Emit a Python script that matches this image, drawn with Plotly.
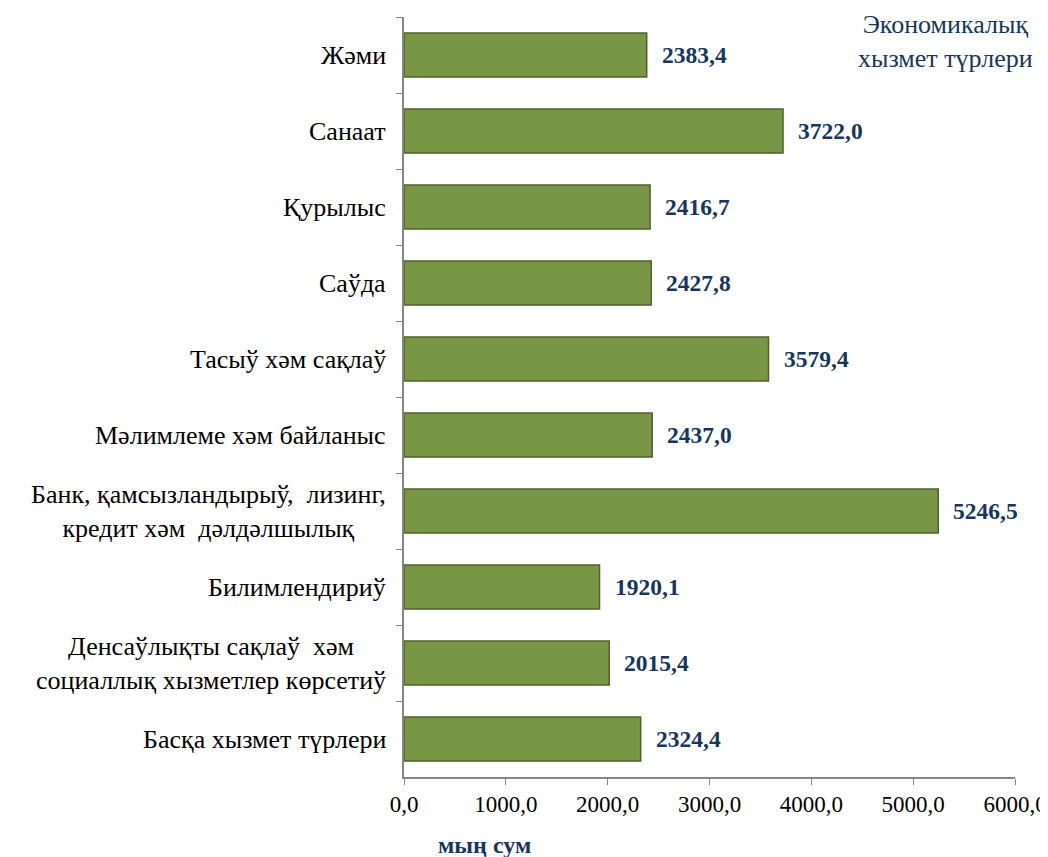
import plotly.graph_objects as go

categories = [
    "Жәми",
    "Санаат",
    "Қурылыс",
    "Саўда",
    "Тасыў хәм сақлаў",
    "Мәлимлеме хәм байланыс",
    "Банк, қамсызландырыў,  лизинг,<br>кредит хәм  дәлдәлшылық",
    "Билимлендириў",
    "Денсаўлықты сақлаў  хәм<br>социаллық хызметлер көрсетиў",
    "Басқа хызмет түрлери",
]
values = [2383.4, 3722.0, 2416.7, 2427.8, 3579.4, 2437.0, 5246.5, 1920.1, 2015.4, 2324.4]
tick_vals = [0, 1000, 2000, 3000, 4000, 5000, 6000]
tick_text = ["0,0", "1000,0", "2000,0", "3000,0", "4000,0", "5000,0", "6000,0"]

NAVY = "#17365D"
FONT = "Liberation Serif, DejaVu Serif, serif"

fig = go.Figure(go.Bar(
    x=values, y=categories, orientation="h",
    marker=dict(color="#789646", line=dict(color="#4F6228", width=1.5)),
    width=0.58,
))

annotations = []
for c, v in zip(categories, values):
    annotations.append(dict(
        x=v, y=c, xref="x", yref="y", xanchor="left", yanchor="middle",
        xshift=13, showarrow=False,
        text="<b>" + f"{v:.1f}".replace(".", ",") + "</b>",
        font=dict(family=FONT, size=23.5, color=NAVY),
    ))
    annotations.append(dict(
        x=0, y=c, xref="paper", yref="y", xanchor="right", yanchor="middle",
        xshift=-16, showarrow=False, align="center",
        text=c, font=dict(family=FONT, size=26, color="#000000"),
    ))

annotations.append(dict(
    x=0.886, y=1.0, xref="paper", yref="paper", showarrow=False,
    text="Экономикалық<br>хызмет түрлери", align="center",
    xanchor="center", yanchor="top", yshift=9,
    font=dict(family=FONT, size=26, color=NAVY),
))
annotations.append(dict(
    x=0.132, y=-0.09, xref="paper", yref="paper", showarrow=False,
    text="<b>мың сум</b>", xanchor="center", yanchor="middle",
    font=dict(family=FONT, size=24, color=NAVY),
))

fig.update_layout(
    width=1040, height=849,
    margin=dict(l=396, r=33, t=9, b=80),
    paper_bgcolor="white", plot_bgcolor="white",
    showlegend=False,
    annotations=annotations,
    xaxis=dict(
        range=[0, 6000], tickvals=tick_vals, ticktext=tick_text,
        showgrid=False, zeroline=False, automargin=False,
        showline=True, linecolor="#868686", linewidth=1.5,
        ticks="outside", ticklen=6, tickcolor="#868686",
        tickfont=dict(family=FONT, size=23, color="#000000"),
    ),
    yaxis=dict(
        autorange="reversed", showticklabels=False, automargin=False,
        showgrid=False, zeroline=False,
        showline=True, linecolor="#868686", linewidth=1.5,
        ticks="outside", ticklen=6, tickcolor="#868686",
        tickson="boundaries",
    ),
)

fig.write_html("out.html")
